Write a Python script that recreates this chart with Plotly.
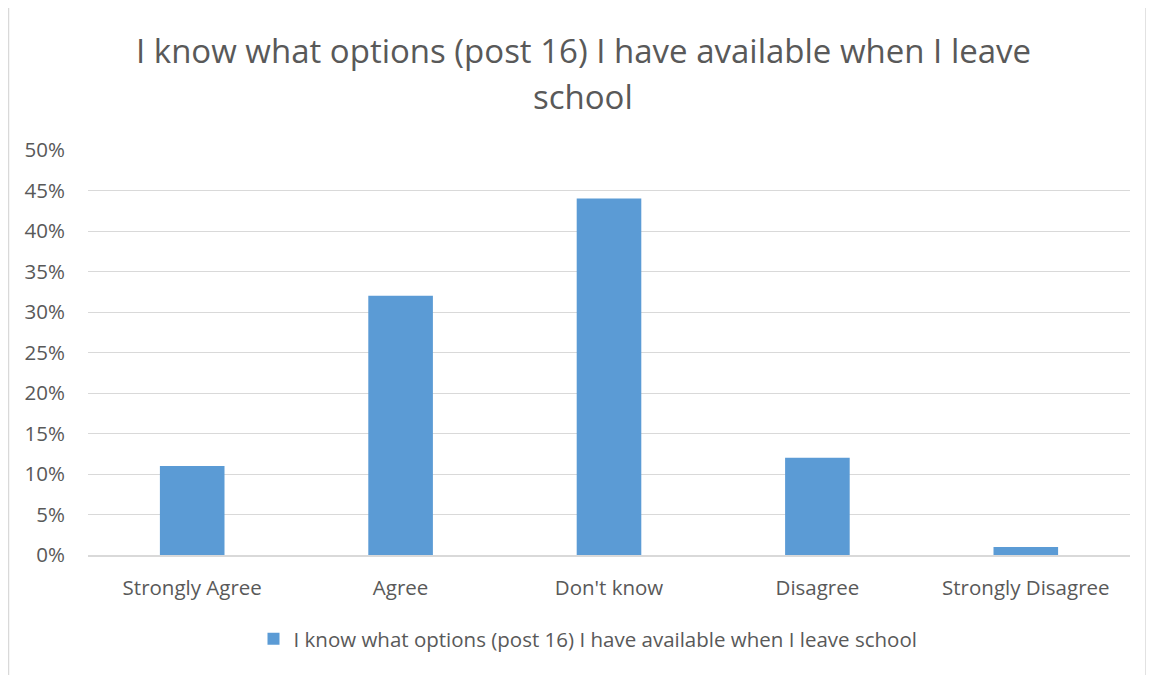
import plotly.graph_objects as go

categories = ["Strongly Agree", "Agree", "Don't know", "Disagree", "Strongly Disagree"]
values = [0.11, 0.32, 0.44, 0.12, 0.01]
series_name = "I know what options (post 16) I have available when I leave school"
title_lines = ["I know what options (post 16) I have available when I leave", "school"]
tick_vals = [0, 0.05, 0.10, 0.15, 0.20, 0.25, 0.30, 0.35, 0.40, 0.45, 0.50]

FONT = "Open Sans, Lato, sans-serif"
OFF = 8  # page body margin
W, H = 1146, 667
L, T = 88 - OFF, 150 - OFF
PR, PB = 1130 - OFF, 555 - OFF
R, B = W - PR, H - PB
pw, ph = PR - L, PB - T

def px(x):
    return (x - OFF - L) / pw

def py(y):
    return (PB - (y - OFF)) / ph

fig = go.Figure()
fig.add_trace(go.Bar(
    x=categories, y=values, name=series_name,
    marker=dict(color="#5B9BD5", line=dict(width=0)),
    width=0.31, showlegend=True,
))

annotations = [
    dict(text=title_lines[0], x=px(583), y=py(50), xref="paper", yref="paper",
         xanchor="center", yanchor="middle", showarrow=False,
         font=dict(size=33, color="#595959", family=FONT)),
    dict(text=title_lines[1], x=px(583), y=py(96), xref="paper", yref="paper",
         xanchor="center", yanchor="middle", showarrow=False,
         font=dict(size=33, color="#595959", family=FONT)),
]

fig.update_layout(
    width=W, height=H,
    margin=dict(l=L, r=R, t=T, b=B),
    paper_bgcolor="white", plot_bgcolor="white",
    font=dict(family=FONT, color="#595959", size=20.5),
    xaxis=dict(showline=True, linecolor="#D9D9D9", linewidth=1.5,
               ticks="", tickfont=dict(size=20.5, color="#595959"),
               ticklabelstandoff=14, showgrid=False),
    yaxis=dict(range=[0, 0.5], tickvals=tick_vals, tickformat=".0%",
               showgrid=True, gridcolor="#D9D9D9", gridwidth=1.2,
               zeroline=False, ticks="", ticklabelstandoff=22,
               tickfont=dict(size=20.5, color="#595959")),
    legend=dict(orientation="h", x=px(588), xanchor="center",
                y=py(639), yanchor="middle",
                font=dict(size=20.5, color="#595959"), itemwidth=30),
    annotations=annotations,
    shapes=[dict(type="rect", xref="paper", yref="paper",
                 x0=px(8.5), x1=px(1146), y0=py(700), y1=py(6),
                 line=dict(color="#D9D9D9", width=1.5), fillcolor="rgba(0,0,0,0)",
                 layer="below")],
)

fig.write_html("out.html")
